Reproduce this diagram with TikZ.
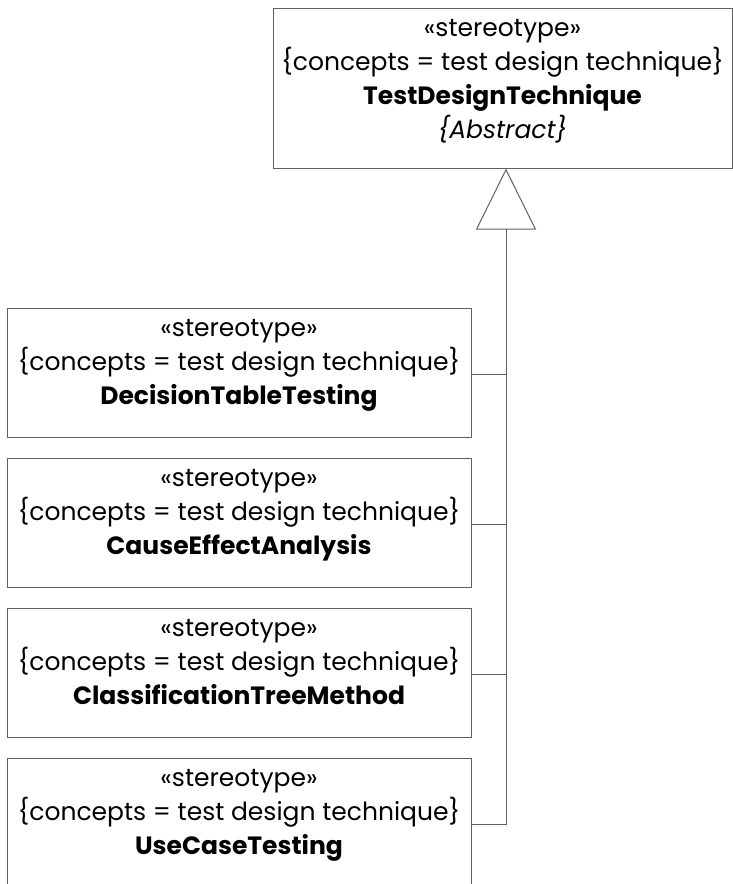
\documentclass[tikz,border=0pt]{standalone}
\usepackage{fontspec}
\setmainfont{Poppins}
\usetikzlibrary{arrows.meta, positioning}
\definecolor{linegray}{rgb}{0.38,0.38,0.38}

% class box: height, width, name lines
\newcommand{\umlclass}[3]{\parbox[c][#1][t]{#2}{\centering\fontsize{25}{34}\selectfont
  \rule{0pt}{28pt}«stereotype»\\\{concepts = test design technique\}\\#3}}

\begin{document}
\begin{tikzpicture}[x=1pt, y=-1pt,
    class/.style={draw=linegray, line width=1pt, inner sep=0pt},
    link/.style={draw=linegray, line width=1pt},
    gen/.style={link, -{Triangle[open, length=61pt, width=60pt]}}]
    \useasboundingbox (0,0) rectangle (733,884);
    \clip (0,0) rectangle (733,884);

    \node[class] (technique) at (502.5,88) {\umlclass{160pt}{459pt}{\textbf{TestDesignTechnique}\\\textit{\{Abstract\}}}};

    \node[class] (decision) at (239,372.5) {\umlclass{129pt}{464pt}{\textbf{DecisionTableTesting}}};
    \node[class, below=20pt of decision] (cause) {\umlclass{129pt}{464pt}{\textbf{CauseEffectAnalysis}}};
    \node[class, below=20pt of cause] (tree) {\umlclass{129pt}{464pt}{\textbf{ClassificationTreeMethod}}};
    \node[class, below=20pt of tree] (usecase) {\umlclass{129pt}{464pt}{\textbf{UseCaseTesting}}};

    % trunk of the generalization
    \coordinate (trunk) at (506,0);
    \coordinate (j1) at ([yshift=-2pt]decision.east -| trunk);
    \coordinate (j2) at ([yshift=-2pt]cause.east -| trunk);
    \coordinate (j3) at ([yshift=-2pt]tree.east -| trunk);
    \coordinate (j4) at ([yshift=-2pt]usecase.east -| trunk);

    \draw[link] ([yshift=-2pt]decision.east) -- (j1);
    \draw[link] ([yshift=-2pt]cause.east) -- (j2);
    \draw[link] ([yshift=-2pt]tree.east) -- (j3);
    \draw[link] ([yshift=-2pt]usecase.east) -- (j4);
    \draw[gen] (j4) -- (j4 |- technique.south);
\end{tikzpicture}
\end{document}
